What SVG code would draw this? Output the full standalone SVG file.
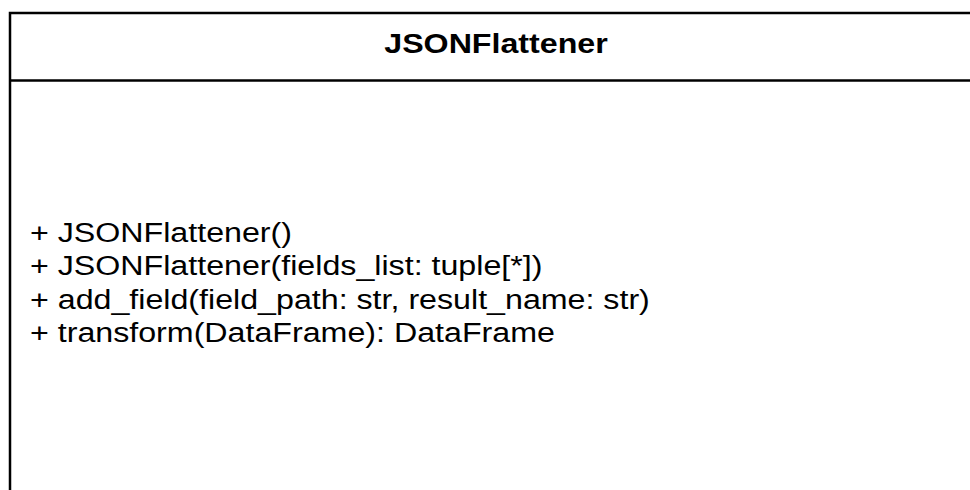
<svg xmlns="http://www.w3.org/2000/svg" width="970" height="490" viewBox="0 0 970 490">
<style>
.box{fill:#ffffff;stroke:#000000;stroke-width:2.5}
.title{font-family:"Liberation Sans",Arial,sans-serif;font-weight:bold;font-size:28px;fill:#000}
.member{font-family:"Liberation Sans",Arial,sans-serif;font-size:28px;fill:#000}
</style>
<rect width="970" height="490" fill="#ffffff"/>
<g id="JSONFlattener">
<rect class="box" x="10" y="13" width="972" height="500"/>
<line class="box" x1="10" y1="80.5" x2="982" y2="80.5"/>
<g transform="translate(496,0) scale(1.15,1)">
<text class="title" x="0" y="53" text-anchor="middle">JSONFlattener</text>
</g>
<g transform="translate(30,0) scale(1.15,1)">
<text class="member" x="0" y="242">+ JSONFlattener()</text>
<text class="member" x="0" y="275.3">+ JSONFlattener(fields_list: tuple[*])</text>
<text class="member" x="0" y="308.6">+ add_field(field_path: str, result_name: str)</text>
<text class="member" x="0" y="342">+ transform(DataFrame): DataFrame</text>
</g>
</g>
<g id="connectors"/>
</svg>
